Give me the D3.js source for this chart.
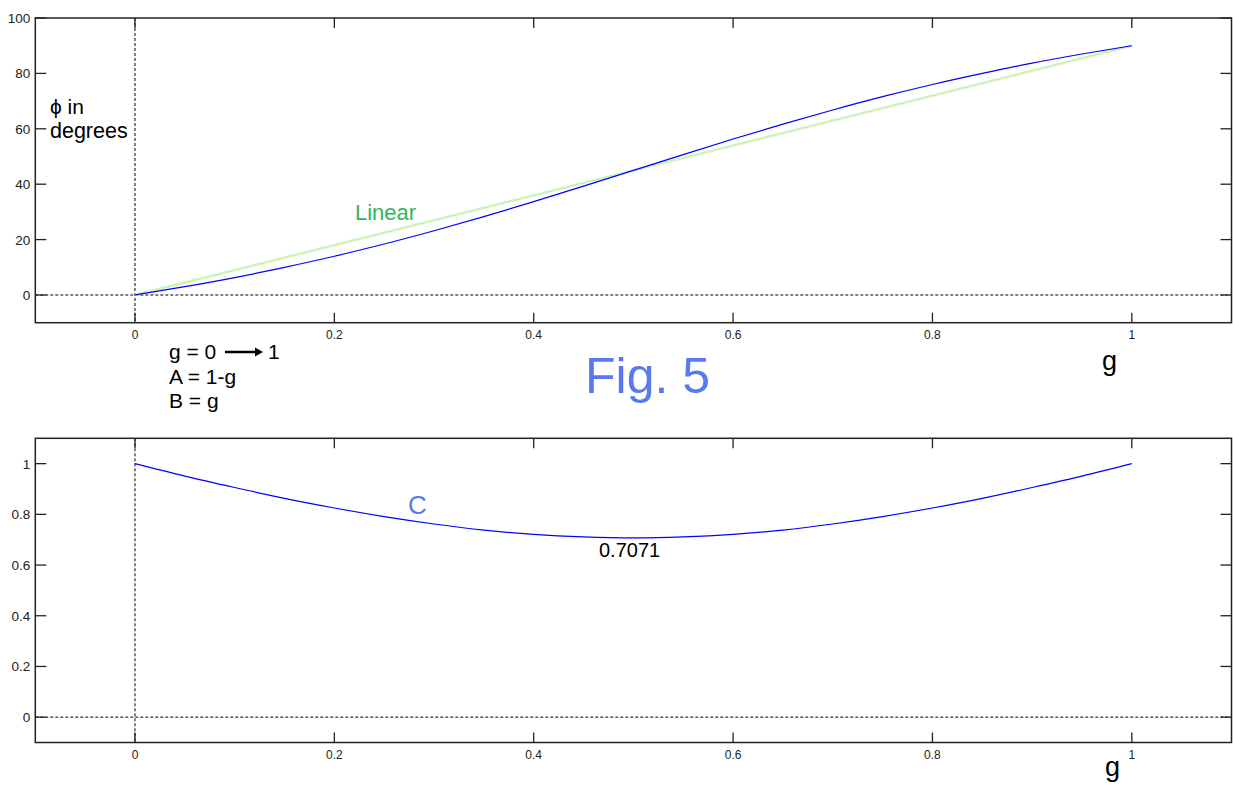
<!DOCTYPE html>
<html>
<head>
<meta charset="utf-8">
<script src="https://cdn.jsdelivr.net/npm/d3@7"></script>
<style>
  body { margin: 0; background: #fff; }
  svg { display: block; font-family: Arial, "Liberation Sans", sans-serif; }
</style>
</head>
<body>
<div id="chart"></div>
<script>
// values
const gValues = [0, 0.05, 0.1, 0.15, 0.2, 0.25, 0.3, 0.35, 0.4, 0.45, 0.5,
  0.55, 0.6, 0.65, 0.7, 0.75, 0.8, 0.85, 0.9, 0.95, 1];
const phiDegrees = [0, 3.0, 6.3, 10.0, 14.0, 18.4, 23.2, 28.3, 33.7, 39.3, 45,
  50.7, 56.3, 61.7, 66.8, 71.6, 76.0, 80.0, 83.7, 87.0, 90];
const linearG = [0, 1];
const linearDegrees = [0, 90];
const cValues = [1, 0.951, 0.906, 0.863, 0.825, 0.791, 0.762, 0.738, 0.721, 0.711, 0.7071,
  0.711, 0.721, 0.738, 0.762, 0.791, 0.825, 0.863, 0.906, 0.951, 1];
const xTicks = [0, 0.2, 0.4, 0.6, 0.8, 1];
const phiTicks = [0, 20, 40, 60, 80, 100];
const cTicks = [0, 0.2, 0.4, 0.6, 0.8, 1];

const width = 1233, height = 785;

const svg = d3.select("#chart").append("svg")
  .attr("width", width)
  .attr("height", height);

const x = d3.scaleLinear().domain([-0.1, 1.1]).range([35.3, 1231.5]);
const yPhi = d3.scaleLinear().domain([-10, 100]).range([322.7, 18]);
const yC = d3.scaleLinear().domain([-0.1, 1.1]).range([742.5, 438.3]);

// one matlab style panel: box, inward ticks on all sides, dotted zero lines
function panel(y, yTicks) {
  const g = svg.append("g");
  const [x0, x1] = x.range();
  const [yb, yt] = y.range();

  // dotted zero lines
  g.append("line")
    .attr("x1", x(0)).attr("x2", x(0)).attr("y1", yt).attr("y2", yb)
    .attr("stroke", "#000").attr("stroke-dasharray", "3,2");
  g.append("line")
    .attr("x1", x0).attr("x2", x1).attr("y1", y(0)).attr("y2", y(0))
    .attr("stroke", "#000").attr("stroke-dasharray", "3,2");

  const ticks = g.append("g").attr("stroke", "#222").attr("stroke-width", 1.3);
  xTicks.forEach(function (t) {
    ticks.append("line").attr("x1", x(t)).attr("x2", x(t)).attr("y1", yb).attr("y2", yb - 10);
    ticks.append("line").attr("x1", x(t)).attr("x2", x(t)).attr("y1", yt).attr("y2", yt + 10);
  });
  yTicks.forEach(function (t) {
    ticks.append("line").attr("x1", x0).attr("x2", x0 + 11).attr("y1", y(t)).attr("y2", y(t));
    ticks.append("line").attr("x1", x1).attr("x2", x1 - 11).attr("y1", y(t)).attr("y2", y(t));
  });

  g.append("g").selectAll("text")
    .data(xTicks).enter().append("text")
    .attr("x", d => x(d))
    .attr("y", yb + 16)
    .attr("text-anchor", "middle")
    .attr("font-size", 12)
    .attr("fill", "#222")
    .text(d => d3.format("~g")(d));

  g.append("g").selectAll("text")
    .data(yTicks).enter().append("text")
    .attr("x", x0 - 5)
    .attr("y", d => y(d) + 5)
    .attr("text-anchor", "end")
    .attr("font-size", 13.5)
    .attr("fill", "#222")
    .text(d => d3.format("~g")(d));

  return g;
}

const phiPanel = panel(yPhi, phiTicks);
const cPanel = panel(yC, cTicks);

// curves
const phiLine = d3.line().x(d => x(d[0])).y(d => yPhi(d[1])).curve(d3.curveMonotoneX);
const cLine = d3.line().x(d => x(d[0])).y(d => yC(d[1])).curve(d3.curveMonotoneX);

phiPanel.append("path")
  .datum(linearG.map((g, i) => [g, linearDegrees[i]]))
  .attr("d", phiLine)
  .attr("fill", "none")
  .attr("stroke", "#cdf4b8")
  .attr("stroke-width", 2.5);

phiPanel.append("path")
  .datum(gValues.map((g, i) => [g, phiDegrees[i]]))
  .attr("d", phiLine)
  .attr("fill", "none")
  .attr("stroke", "#0000ff")
  .attr("stroke-width", 1.2);

cPanel.append("path")
  .datum(gValues.map((g, i) => [g, cValues[i]]))
  .attr("d", cLine)
  .attr("fill", "none")
  .attr("stroke", "#0000ff")
  .attr("stroke-width", 1.2);

// frames on top
[yPhi, yC].forEach(function (y) {
  const [x0, x1] = x.range();
  const [yb, yt] = y.range();
  svg.append("rect")
    .attr("x", x0).attr("y", yt)
    .attr("width", x1 - x0).attr("height", yb - yt)
    .attr("fill", "none")
    .attr("stroke", "#222")
    .attr("stroke-width", 1.5);
});

// annotations
const ann = svg.append("g").attr("fill", "#000");

ann.append("text").attr("x", 50).attr("y", 114).attr("font-size", 21).text("ϕ in");
ann.append("text").attr("x", 50).attr("y", 138).attr("font-size", 21.5).text("degrees");

ann.append("text")
  .attr("x", 355).attr("y", 220)
  .attr("font-size", 22)
  .attr("fill", "#2fb85a")
  .text("Linear");

ann.append("text").attr("x", 169).attr("y", 359).attr("font-size", 21).text("g = 0");
ann.append("line")
  .attr("x1", 225).attr("x2", 257).attr("y1", 352).attr("y2", 352)
  .attr("stroke", "#000").attr("stroke-width", 2.5);
ann.append("path")
  .attr("d", "M255,347.5 L263,352 L255,356.5 Z")
  .attr("fill", "#000");
ann.append("text").attr("x", 268).attr("y", 359).attr("font-size", 21).text("1");
ann.append("text").attr("x", 169).attr("y", 384).attr("font-size", 21).text("A = 1-g");
ann.append("text").attr("x", 169).attr("y", 408).attr("font-size", 21).text("B = g");

ann.append("text")
  .attr("x", 585).attr("y", 393)
  .attr("font-size", 50)
  .attr("fill", "#5a78f0")
  .text("Fig. 5");

ann.append("text").attr("x", 1102).attr("y", 370).attr("font-size", 27).text("g");
ann.append("text").attr("x", 1105).attr("y", 776).attr("font-size", 27).text("g");

ann.append("text")
  .attr("x", 408).attr("y", 514)
  .attr("font-size", 26)
  .attr("fill", "#5a78f0")
  .text("C");

ann.append("text").attr("x", 599).attr("y", 557).attr("font-size", 20).text("0.7071");
</script>
</body>
</html>
